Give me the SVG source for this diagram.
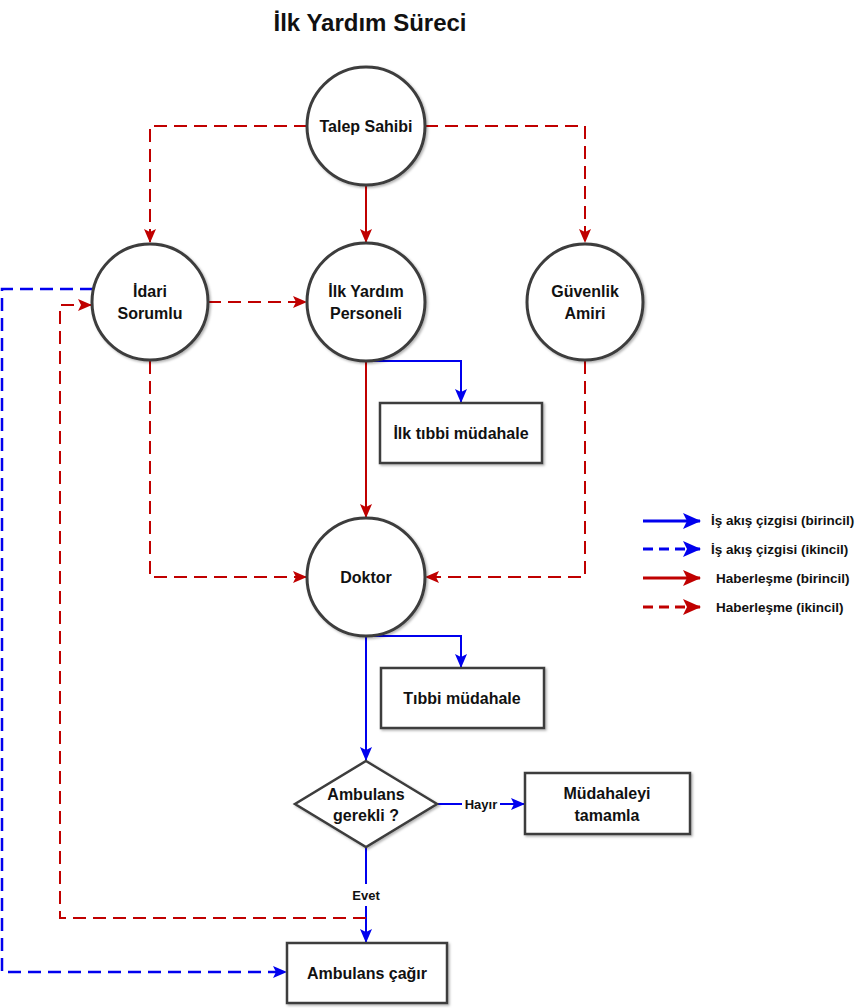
<svg xmlns="http://www.w3.org/2000/svg" width="860" height="1008" viewBox="0 0 860 1008">
<defs>
<style>
text{font-family:"Liberation Sans",Arial,sans-serif;font-weight:bold;fill:#111;}
.lbl{font-size:16px;text-anchor:middle;}
.small{font-size:13px;text-anchor:middle;}
.leg{font-size:13.5px;}
.node{fill:#fff;stroke:#3c3c3c;stroke-width:3;filter:url(#sh);}
.box{fill:#fff;stroke:#3c3c3c;stroke-width:2.5;filter:url(#sh);}
.r{fill:none;stroke:#c00000;stroke-width:2;}
.rd{fill:none;stroke:#c00000;stroke-width:2;stroke-dasharray:13,7;}
.b{fill:none;stroke:#0000ee;stroke-width:2;}
.bd{fill:none;stroke:#0000ee;stroke-width:2.5;stroke-dasharray:13,7;}
</style>
<filter id="sh" x="-20%" y="-20%" width="140%" height="140%">
<feDropShadow dx="1.5" dy="1.5" stdDeviation="1.2" flood-color="#000" flood-opacity="0.3"/>
</filter>
<marker id="ar" markerUnits="userSpaceOnUse" markerWidth="14" markerHeight="12" refX="13" refY="6" orient="auto">
<path d="M0,0 L14,6 L0,12 L3,6 Z" fill="#c00000"/>
</marker>
<marker id="ab" markerUnits="userSpaceOnUse" markerWidth="14" markerHeight="12" refX="13" refY="6" orient="auto">
<path d="M0,0 L14,6 L0,12 L3,6 Z" fill="#0000ee"/>
</marker>
<marker id="arL" markerUnits="userSpaceOnUse" markerWidth="18" markerHeight="16" refX="17" refY="8" orient="auto">
<path d="M0,0 L18,8 L0,16 L4,8 Z" fill="#c00000"/>
</marker>
<marker id="abL" markerUnits="userSpaceOnUse" markerWidth="18" markerHeight="16" refX="17" refY="8" orient="auto">
<path d="M0,0 L18,8 L0,16 L4,8 Z" fill="#0000ee"/>
</marker>
</defs>
<rect width="860" height="1008" fill="#fff"/>
<text x="370" y="31" style="font-size:24px;text-anchor:middle;">İlk Yardım Süreci</text>

<g id="connectors">
<path class="rd" d="M307,126 H150 V242" marker-end="url(#ar)"/>
<path class="r" d="M366,185 V242" marker-end="url(#ar)"/>
<path class="rd" d="M425,126 H585 V242" marker-end="url(#ar)"/>
<path class="rd" d="M208,302 H306" marker-end="url(#ar)"/>
<path class="b" d="M366,361 H461 V402" marker-end="url(#ab)"/>
<path class="r" d="M366,361 V517" marker-end="url(#ar)"/>
<path class="rd" d="M150,361 V577 H306" marker-end="url(#ar)"/>
<path class="rd" d="M585,361 V577 H426" marker-end="url(#ar)"/>
<path class="b" d="M366,636 H461 V667" marker-end="url(#ab)"/>
<path class="b" d="M366,636 V760" marker-end="url(#ab)"/>
<path class="b" d="M437,804 H462"/>
<path class="b" d="M500,804 H524" marker-end="url(#ab)"/>
<path class="b" d="M366,847 V884"/>
<path class="b" d="M366,906 V942" marker-end="url(#ab)"/>
<path class="rd" d="M366,918 H60 V305 H91" marker-end="url(#ar)"/>
<path class="bd" d="M93,289 H2 V972 H286" marker-end="url(#ab)"/>
</g>

<g id="talep-sahibi"><circle class="node" cx="366" cy="126" r="59"/><text class="lbl" x="366" y="132">Talep Sahibi</text></g>
<g id="idari-sorumlu"><circle class="node" cx="150" cy="302" r="58"/><text class="lbl" x="150" y="297">İdari</text><text class="lbl" x="150" y="319">Sorumlu</text></g>
<g id="ilk-yardim-personeli"><circle class="node" cx="366" cy="302" r="59"/><text class="lbl" x="366" y="297">İlk Yardım</text><text class="lbl" x="366" y="319">Personeli</text></g>
<g id="guvenlik-amiri"><circle class="node" cx="585" cy="302" r="58"/><text class="lbl" x="585" y="297">Güvenlik</text><text class="lbl" x="585" y="319">Amiri</text></g>
<g id="doktor"><circle class="node" cx="366" cy="577" r="59"/><text class="lbl" x="366" y="583">Doktor</text></g>
<g id="ilk-tibbi-mudahale"><rect class="box" x="380" y="403" width="162" height="60"/><text class="lbl" x="461" y="439">İlk tıbbi müdahale</text></g>
<g id="tibbi-mudahale"><rect class="box" x="381" y="668" width="163" height="60"/><text class="lbl" x="462" y="704">Tıbbi müdahale</text></g>
<g id="ambulans-gerekli"><polygon class="box" points="366,761 437,804 366,847 295,804"/><text class="lbl" x="366" y="800">Ambulans</text><text class="lbl" x="366" y="821">gerekli ?</text></g>
<g id="mudahaleyi-tamamla"><rect class="box" x="525" y="773" width="165" height="61"/><text class="lbl" x="607" y="799">Müdahaleyi</text><text class="lbl" x="607" y="821">tamamla</text></g>
<g id="ambulans-cagir"><rect class="box" x="287" y="943" width="160" height="60"/><text class="lbl" x="367" y="979">Ambulans çağır</text></g>

<g id="edge-labels">
<text class="small" x="481" y="809">Hayır</text>
<text class="small" x="366" y="900">Evet</text>
</g>

<g id="legend">
<path d="M643,521 H700" stroke="#0000ee" stroke-width="3" fill="none" marker-end="url(#abL)"/>
<path d="M643,549 H700" stroke="#0000ee" stroke-width="3" fill="none" stroke-dasharray="10,6" marker-end="url(#abL)"/>
<path d="M643,578 H700" stroke="#c00000" stroke-width="3" fill="none" marker-end="url(#arL)"/>
<path d="M643,607 H700" stroke="#c00000" stroke-width="3" fill="none" stroke-dasharray="10,6" marker-end="url(#arL)"/>
<text class="leg" x="711" y="525">İş akış çizgisi (birincil)</text>
<text class="leg" x="711" y="554">İş akış çizgisi (ikincil)</text>
<text class="leg" x="716" y="583">Haberleşme (birincil)</text>
<text class="leg" x="716" y="612">Haberleşme (ikincil)</text>
</g>
</svg>
